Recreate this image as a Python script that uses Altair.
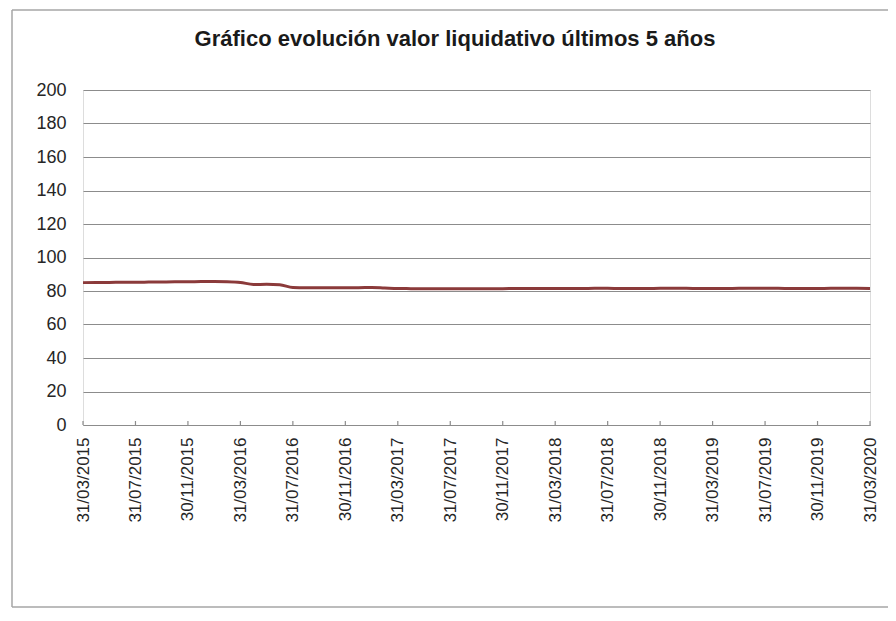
import altair as alt
import pandas as pd

# Monthly month-end dates, 31/03/2015 .. 31/03/2020
dates = pd.date_range("2015-03-31", periods=61, freq=pd.offsets.MonthEnd())
date_labels = [d.strftime("%d/%m/%Y") for d in dates]

values = [
    85.0, 85.1, 85.1, 85.2, 85.2, 85.3, 85.4, 85.5, 85.5, 85.6, 85.6, 85.5,
    85.1, 83.9, 84.0, 83.7, 82.1, 81.9, 81.9, 81.9, 82.0, 82.0, 82.1, 81.8,
    81.5, 81.4, 81.3, 81.3, 81.3, 81.3, 81.4, 81.4, 81.4, 81.5, 81.5, 81.5,
    81.5, 81.5, 81.5, 81.6, 81.6, 81.5, 81.5, 81.5, 81.6, 81.6, 81.6, 81.5,
    81.5, 81.5, 81.6, 81.6, 81.6, 81.6, 81.5, 81.5, 81.5, 81.6, 81.6, 81.6,
    81.5,
]

tick_labels = [
    "31/03/2015", "31/07/2015", "30/11/2015", "31/03/2016", "31/07/2016",
    "30/11/2016", "31/03/2017", "31/07/2017", "30/11/2017", "31/03/2018",
    "31/07/2018", "30/11/2018", "31/03/2019", "31/07/2019", "30/11/2019",
    "31/03/2020",
]
y_ticks = [0, 20, 40, 60, 80, 100, 120, 140, 160, 180, 200]

title_text = "Gráfico evolución valor liquidativo últimos 5 años"

W, H = 787, 335
FONT = "Liberation Sans"
GRID = "#8c8c8c"

df = pd.DataFrame({"fecha": date_labels, "valor": values})
ticks_df = pd.DataFrame({"fecha": tick_labels})
frame_df = pd.DataFrame({"k": [0]})

x_enc = alt.X(
    "fecha:O",
    title=None,
    scale=alt.Scale(type="point", domain=date_labels, padding=0),
    axis=alt.Axis(
        values=tick_labels,
        labelAngle=270,
        labelFont=FONT,
        labelFontSize=17,
        labelColor="#262626",
        labelPadding=12,
        ticks=False,
        domainColor=GRID,
        domainWidth=1.2,
        grid=False,
        labelOverlap=False,
    ),
)

line = alt.Chart(df).mark_line(
    color="#8b3a3a", strokeWidth=3, interpolate="monotone"
).encode(
    x=x_enc,
    y=alt.Y(
        "valor:Q",
        title=None,
        scale=alt.Scale(domain=[0, 200], nice=False),
        axis=alt.Axis(
            values=y_ticks,
            grid=True,
            gridColor=GRID,
            gridWidth=1.2,
            domain=False,
            ticks=False,
            labelFont=FONT,
            labelFontSize=18,
            labelColor="#262626",
            labelPadding=17,
        ),
    ),
)

tick_marks = alt.Chart(ticks_df).mark_rule(color=GRID, strokeWidth=1.2).encode(
    x=x_enc,
    y=alt.value(H - 4),
    y2=alt.value(H),
)

title_mark = alt.Chart(frame_df).mark_text(
    text=title_text,
    font=FONT,
    fontSize=22,
    fontWeight="bold",
    color="#1a1a1a",
    align="center",
    baseline="alphabetic",
).encode(x=alt.value(372), y=alt.value(-44))

frame_left = alt.Chart(frame_df).mark_rule(color="#a6a6a6", strokeWidth=1.5).encode(
    x=alt.value(-71), y=alt.value(-80), y2=alt.value(517)
)
frame_top = alt.Chart(frame_df).mark_rule(color="#a6a6a6", strokeWidth=1.5).encode(
    x=alt.value(-71), x2=alt.value(810), y=alt.value(-80)
)
frame_bottom = alt.Chart(frame_df).mark_rule(color="#a6a6a6", strokeWidth=1.5).encode(
    x=alt.value(-71), x2=alt.value(810), y=alt.value(517)
)

chart = alt.layer(
    line, tick_marks, title_mark, frame_left, frame_top, frame_bottom
).properties(
    width=W,
    height=H,
    autosize=alt.AutoSizeParams(type="none"),
    padding={"left": 75, "top": 82, "right": 18, "bottom": 183},
).configure_view(stroke=None).configure(background="white")

chart.save("out.html", embed_options={"renderer": "svg", "actions": False})
